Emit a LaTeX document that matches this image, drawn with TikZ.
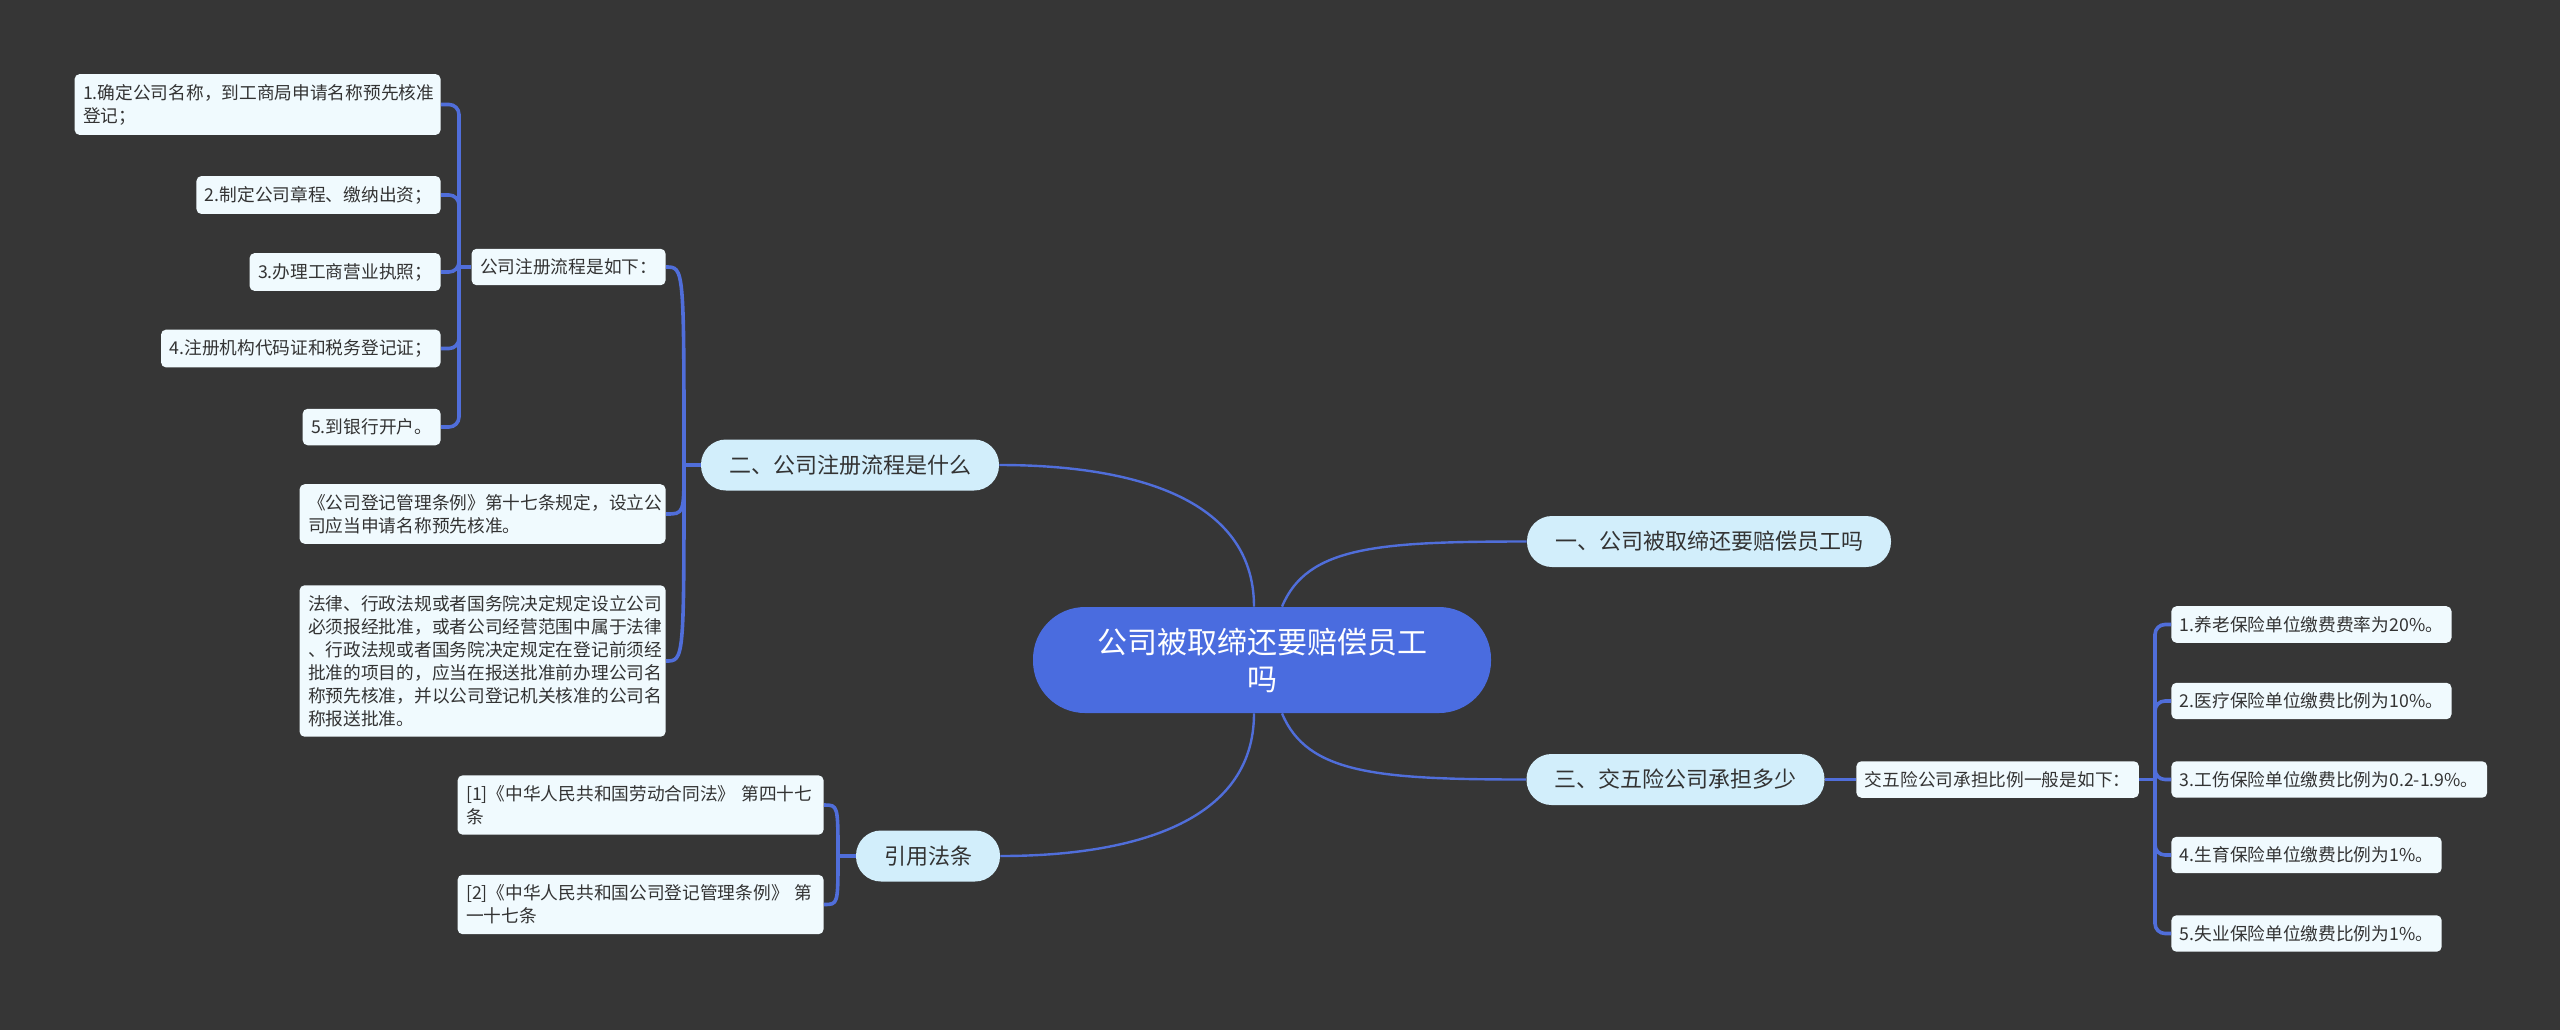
\documentclass[tikz,border=0pt]{standalone}
\usepackage{fontspec}
\setmainfont{Noto Sans CJK SC}
\definecolor{bg}{HTML}{363636}
\definecolor{rootc}{HTML}{4A6CDF}
\definecolor{brc}{HTML}{D2EEFB}
\definecolor{leafc}{HTML}{F0FAFE}
\definecolor{linec}{HTML}{506EDA}
\definecolor{txt}{HTML}{333333}
\begin{document}
\begin{tikzpicture}[x=0.5pt,y=-0.5pt,
 rootbox/.style={fill=rootc, rounded corners=26pt, text=white, font=\fontsize{15}{18.5}\selectfont, align=center, minimum width=229pt, minimum height=53pt, inner sep=0pt},
 branch/.style={fill=brc, rounded corners=12.5pt, text=txt, font=\fontsize{11}{13}\selectfont, inner xsep=14pt, inner ysep=0pt, minimum height=25.5pt},
 leaf/.style={fill=leafc, rounded corners=2.5pt, text=txt, font=\fontsize{8.85}{11.5}\selectfont, inner xsep=4.25pt, inner ysep=5pt, align=left},
 wide/.style={leaf, text width=174.5pt},
 conn/.style={draw=linec, line width=1.2pt},
 brk/.style={draw=linec, line width=1.8pt},
]
\fill[bg] (0,0) rectangle (2560,1030);
\useasboundingbox (0,0) rectangle (2560,1030);

% root and branches
\node[rootbox] (root) at (1262,660) {公司被取缔还要赔偿员工\\吗};
\node[branch] (b1) at (1709,541.5) {一、公司被取缔还要赔偿员工吗};
\node[branch] (b2) at (850,465) {二、公司注册流程是什么};
\node[branch] (b3) at (1675.5,779.5) {三、交五险公司承担多少};
\node[branch] (cite) at (928,856) {引用法条};

% branch 2 children
\node[leaf, anchor=east] (flow) at (666,267) {公司注册流程是如下：};
\node[wide, anchor=east] (reg) at (666,514) {《公司登记管理条例》第十七条规定，设立公\\司应当申请名称预先核准。};
\node[wide, anchor=east] (law) at (666,661) {法律、行政法规或者国务院决定规定设立公司\\必须报经批准，或者公司经营范围中属于法律\\、行政法规或者国务院决定规定在登记前须经\\批准的项目的，应当在报送批准前办理公司名\\称预先核准，并以公司登记机关核准的公司名\\称报送批准。};

\node[wide, anchor=east] (n1) at (441,104.5) {1.确定公司名称，到工商局申请名称预先核准\\登记；};
\node[leaf, anchor=east] (n2) at (441,195) {2.制定公司章程、缴纳出资；};
\node[leaf, anchor=east] (n3) at (441,272) {3.办理工商营业执照；};
\node[leaf, anchor=east] (n4) at (441,348.5) {4.注册机构代码证和税务登记证；};
\node[leaf, anchor=east] (n5) at (441,427) {5.到银行开户。};

% citations
\node[wide, anchor=east] (c1) at (824,805) {[1]《中华人民共和国劳动合同法》 第四十七\\条};
\node[wide, anchor=east] (c2) at (824,904.5) {[2]《中华人民共和国公司登记管理条例》 第\\一十七条};

% branch 3 children
\node[leaf, anchor=west] (ins) at (1856,779.5) {交五险公司承担比例一般是如下：};
\node[leaf, anchor=west] (r1) at (2171,624.5) {1.养老保险单位缴费费率为20\%。};
\node[leaf, anchor=west] (r2) at (2171,701) {2.医疗保险单位缴费比例为10\%。};
\node[leaf, anchor=west] (r3) at (2171,779.5) {3.工伤保险单位缴费比例为0.2-1.9\%。};
\node[leaf, anchor=west] (r4) at (2171,855) {4.生育保险单位缴费比例为1\%。};
\node[leaf, anchor=west] (r5) at (2171,933.5) {5.失业保险单位缴费比例为1\%。};

% junction points
\coordinate (j1) at (459,267);
\coordinate (j2) at (684,465);
\coordinate (j3) at (2155,779.5);
\coordinate (j4) at (838,856);

% root connectors
\draw[conn] ([xshift=-4pt]root.north) .. controls +(0,-110) and +(130,0) .. (b2.east);
\draw[conn] ([xshift=10pt]root.north) .. controls +(25,-60) and +(-150,0) .. (b1.west);
\draw[conn] ([xshift=10pt]root.south) .. controls +(25,60) and +(-150,0) .. (b3.west);
\draw[conn] ([xshift=-4pt]root.south) .. controls +(0,110) and +(130,0) .. (cite.east);

% branch 2 brackets
\draw[brk] (b2.west) -- (j2);
\draw[brk] (j2) .. controls (684,267) .. (flow.east);
\draw[brk] (j2) .. controls (684,514) .. (reg.east);
\draw[brk] (j2) .. controls (684,661) .. (law.east);

\draw[brk] (flow.west) -- (j1);
\foreach \n in {n1,n2,n3,n4,n5}{
  \draw[brk, rounded corners=5pt] (j1) |- (\n.east);
}

% citations
\draw[brk] (cite.west) -- (j4);
\draw[brk] (j4) .. controls (838,805) .. (c1.east);
\draw[brk] (j4) .. controls (838,904.5) .. (c2.east);

% branch 3
\draw[brk] (b3.east) -- (ins.west);
\draw[brk] (ins.east) -- (j3);
\foreach \n in {r1,r2,r3,r4,r5}{
  \draw[brk, rounded corners=5pt] (j3) |- (\n.west);
}
\end{tikzpicture}
\end{document}
